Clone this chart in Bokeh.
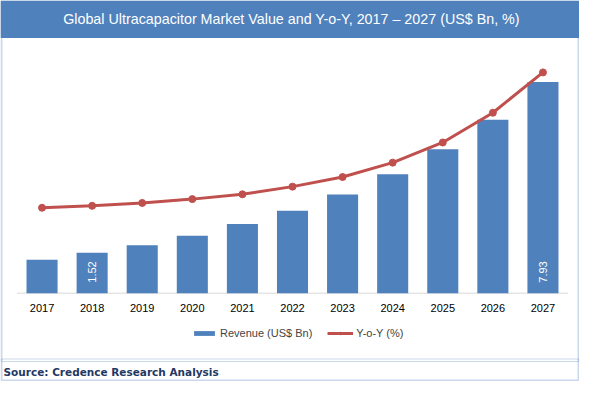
import math
from bokeh.plotting import figure
from bokeh.models import (ColumnDataSource, Range1d, Legend, LegendItem,
                          BoxAnnotation, Label)
from bokeh.embed import file_html
from bokeh.resources import INLINE
from bokeh.core.properties import value

# ---------------- data ----------------
years = ["2017", "2018", "2019", "2020", "2021", "2022",
         "2023", "2024", "2025", "2026", "2027"]
revenue = [1.26, 1.52, 1.80, 2.16, 2.60, 3.10, 3.71, 4.47, 5.41, 6.52, 7.93]
yoy = [8.9, 9.1, 9.4, 9.8, 10.3, 11.1, 12.1, 13.6, 15.7, 18.8, 23.0]
labelled_years = ["2018", "2027"]

title_text = "Global Ultracapacitor Market Value and Y-o-Y, 2017 \u2013 2027 (US$ Bn, %)"
source_text = "Source: Credence Research Analysis"

# ---------------- style / layout ----------------
BLUE = "#4f81bd"
RED = "#c0504d"
NAVY = "#1f3864"
FONT = "Liberation Sans"

W, H = 579, 381
AX_LEFT, AX_RIGHT = 16.5, 567.5   # pixel extent of category axis
BASE_PX = 292.7                   # pixel row of the baseline
PX_PER_BN = 26.62                 # pixels per US$ Bn
PX_PER_PCT = 9.6                  # pixels per Y-o-Y point

n = len(years)
idx = list(range(n))
cat_w = (AX_RIGHT - AX_LEFT) / n
x_rng = Range1d(-0.5 - AX_LEFT / cat_w, n - 0.5 + (W - AX_RIGHT) / cat_w)
y_rng = Range1d(-(H - BASE_PX) / PX_PER_BN, BASE_PX / PX_PER_BN)
yoy_rng = Range1d(-(H - BASE_PX) / PX_PER_PCT, BASE_PX / PX_PER_PCT)

src = ColumnDataSource(dict(i=idx, year=years, revenue=revenue, yoy=yoy,
                            zero=[0.0] * n))
lab_i = [years.index(y) for y in labelled_years]
lab_src = ColumnDataSource(dict(
    i=lab_i,
    base=[0.0] * len(lab_i),
    txt=["%.2f" % revenue[k] for k in lab_i],
))

p = figure(x_range=x_rng, y_range=y_rng, width=W, height=H,
           output_backend="svg", toolbar_location=None,
           x_axis_location=None, y_axis_location=None,
           min_border_left=0, min_border_right=0,
           min_border_top=0, min_border_bottom=0)
p.extra_y_ranges = {"yoy": yoy_rng}
p.outline_line_color = None
p.xgrid.visible = False
p.ygrid.visible = False
p.background_fill_color = "white"
p.border_fill_color = "white"

# category axis line and labels
p.segment(x0=[-0.5], y0=[0.0], x1=[n - 0.5], y1=[0.0],
          line_color="#d9d9d9", line_width=1)
p.text(x="i", y="zero", text="year", source=src, y_offset=14.5,
       text_align="center", text_baseline="middle", text_color="black",
       text_font=value(FONT), text_font_size="11px")

bars = p.vbar(x="i", top="revenue", width=0.62, source=src,
              fill_color=BLUE, line_color=None)
line = p.line(x="i", y="yoy", source=src, line_width=3, line_color=RED,
              y_range_name="yoy")
dots = p.scatter(x="i", y="yoy", source=src, size=7, marker="circle",
                 fill_color=RED, line_color=RED, y_range_name="yoy")

p.text(x="i", y="base", text="txt", source=lab_src, angle=math.pi / 2,
       text_align="left", text_baseline="middle", y_offset=-10.5,
       text_color="white", text_font=value(FONT), text_font_size="11px")

legend = Legend(items=[LegendItem(label="Revenue (US$ Bn)", renderers=[bars]),
                       LegendItem(label="Y-o-Y (%)", renderers=[line, dots])],
                orientation="horizontal", location=(191, 42),
                glyph_width=26, glyph_height=6, label_height=12,
                label_standoff=3, spacing=15, padding=0, margin=0,
                label_text_font=FONT, label_text_font_size="11px",
                border_line_color=None, background_fill_alpha=0)
p.add_layout(legend, "center")

# decorations: title bar, outer border, double rule
canvas = dict(left_units="canvas", right_units="canvas",
              top_units="canvas", bottom_units="canvas")
p.add_layout(BoxAnnotation(left=0, right=W, top=0, bottom=37.5, fill_color=BLUE,
                           fill_alpha=1, line_color=None, **canvas))
p.add_layout(BoxAnnotation(left=1, right=W - 1, top=1, bottom=H - 1,
                           fill_alpha=0, line_color=BLUE, line_width=2, **canvas))
p.add_layout(BoxAnnotation(left=1, right=W - 1, top=358.5, bottom=361,
                           fill_alpha=0, line_color=BLUE, line_width=1, **canvas))
p.add_layout(Label(x=291, y=18.5, x_units="canvas", y_units="canvas",
                   text=title_text, text_align="center", text_baseline="middle",
                   text_color="white", text_font=FONT, text_font_size="14.3px"))
p.add_layout(Label(x=3, y=371, x_units="canvas", y_units="canvas",
                   text=source_text, text_align="left", text_baseline="middle",
                   text_color=NAVY, text_font="DejaVu Sans",
                   text_font_style="bold", text_font_size="10.5px"))

open("out.html", "w").write(file_html(p, INLINE))
